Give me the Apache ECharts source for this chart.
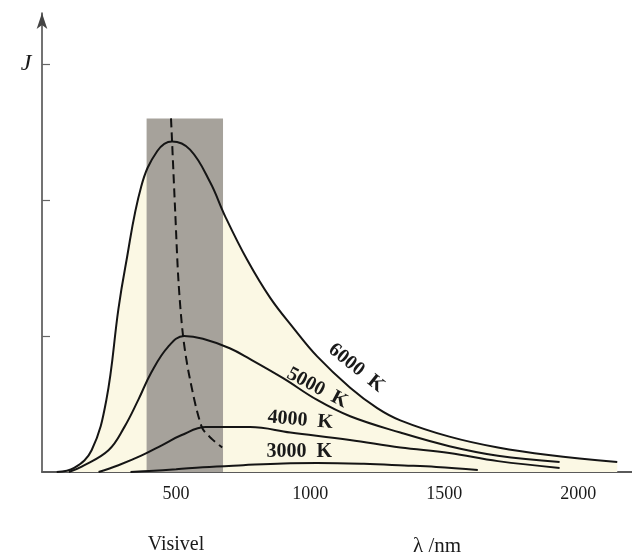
<!DOCTYPE html>
<html>
<head>
<meta charset="utf-8">
<script src="https://cdn.jsdelivr.net/npm/echarts@6/dist/echarts.min.js"></script>
<style>
html, body { margin: 0; padding: 0; background: #fff; }
#main { width: 632px; height: 553px; }
</style>
</head>
<body>
<div id="main"></div>
<script>
// [wavelength nm, J]
let curve6000 = [[55, 0], [120, 0.03], [185, 0.16], [240, 0.53], [285, 1.2], [310, 1.5], [370, 2.1],
    [430, 2.36], [485, 2.43], [552, 2.37], [627, 2.13], [683, 1.88], [765, 1.56], [851, 1.28],
    [937, 1.06], [1026, 0.85], [1149, 0.62], [1250, 0.47], [1336, 0.38], [1519, 0.26],
    [1700, 0.18], [1889, 0.125], [2145, 0.074]];
let curve5000 = [[100, 0], [148, 0.04], [248, 0.16], [307, 0.33], [359, 0.53], [407, 0.73],
    [470, 0.92], [530, 1.0], [600, 0.98], [700, 0.91], [776, 0.83], [899, 0.69], [1026, 0.53],
    [1149, 0.41], [1336, 0.29], [1519, 0.19], [1700, 0.12], [1930, 0.074]];
let curve4000 = [[211, 0], [285, 0.05], [370, 0.12], [450, 0.2], [519, 0.27], [611, 0.33],
    [700, 0.33], [776, 0.33], [926, 0.29], [1148, 0.235], [1336, 0.18], [1519, 0.14],
    [1700, 0.08], [1930, 0.03]];
let curve3000 = [[330, 0], [400, 0.008], [500, 0.02], [600, 0.035], [750, 0.05], [900, 0.063],
    [1026, 0.066], [1200, 0.06], [1350, 0.048], [1470, 0.037], [1625, 0.015]];
// locus of the maxima (dashed)
let peakLine = [[481, 2.6], [485, 2.43], [497, 1.9], [509, 1.4], [526, 1.0], [550, 0.7],
    [596, 0.33], [635, 0.24], [672, 0.18]];
// visible band
let visibleBand = [[390, 2.6], [675, 2.6]];

let xTicks = [500, 1000, 1500, 2000];
let yTicks = [1, 2, 3];
let curveLabels = [
    {text: '6000  K', at: [1172, 0.765], rot: -39},
    {text: '5000  K', at: [1026, 0.618], rot: -28},
    {text: '4000  K', at: [963, 0.382], rot: -5},
    {text: '3000  K', at: [959, 0.147], rot: 0}
];

let serif = '"Liberation Serif", "DejaVu Serif", serif';
let myChart = echarts.init(document.getElementById('main'));

function curve(data) {
    return {
        type: 'line', data: data, showSymbol: false, smooth: 0.4,
        lineStyle: {color: '#151515', width: 2}, z: 4, silent: true
    };
}

let option = {
    animation: false,
    backgroundColor: '#fff',
    grid: {left: 42, top: 13, width: 590, height: 459, containLabel: false},
    xAxis: {
        type: 'value', min: 0, max: 2200, interval: 500,
        splitLine: {show: false},
        axisLine: {lineStyle: {color: '#5a5a5a', width: 2}},
        axisTick: {inside: true, length: 8, lineStyle: {color: '#555', width: 1.2},
            customValues: xTicks},
        axisLabel: {customValues: xTicks, color: '#1a1a1a', fontFamily: serif, fontSize: 18, margin: 13,
            formatter: function (v) { return String(v); }}
    },
    yAxis: {
        type: 'value', min: 0, max: 3.375, interval: 1,
        splitLine: {show: false},
        axisLine: {lineStyle: {color: '#444', width: 1.5}, symbol: ['none', 'arrow'], symbolSize: [8, 16]},
        axisTick: {inside: true, length: 8, lineStyle: {color: '#666', width: 1.2}, customValues: yTicks},
        axisLabel: {show: false}
    },
    series: [
        {
            type: 'line', data: curve6000, showSymbol: false, smooth: 0.4,
            lineStyle: {width: 0}, areaStyle: {color: '#fbf8e4', opacity: 1}, z: 1, silent: true
        },
        {
            type: 'line', data: visibleBand, showSymbol: false,
            lineStyle: {width: 0}, areaStyle: {color: '#a6a29b', opacity: 1}, z: 2, silent: true
        },
        curve(curve6000),
        curve(curve5000),
        curve(curve4000),
        curve(curve3000),
        {
            type: 'line', data: peakLine, showSymbol: false, smooth: 0.3,
            lineStyle: {color: '#111', width: 2, type: [9, 5]}, z: 5, silent: true
        }
    ]
};
myChart.setOption(option);

// curve names, placed in data coordinates
let texts = curveLabels.map(function (l) {
    let p = myChart.convertToPixel({gridIndex: 0}, l.at);
    return {
        type: 'text', x: p[0], y: p[1], rotation: l.rot * Math.PI / 180, z: 100,
        style: {text: l.text, fill: '#1a1a1a', font: 'bold 20px ' + serif, align: 'center', verticalAlign: 'middle'}
    };
});
texts.push({type: 'text', x: 26, y: 64, z: 100, style: {text: 'J', fill: '#1a1a1a', font: 'italic 24px ' + serif, align: 'center', verticalAlign: 'middle'}});
texts.push({type: 'text', x: 176, y: 545, z: 100, style: {text: 'Visivel', fill: '#1a1a1a', font: '20px ' + serif, align: 'center', verticalAlign: 'middle'}});
texts.push({type: 'text', x: 437, y: 546, z: 100, style: {text: 'λ /nm', fill: '#1a1a1a', font: '21px ' + serif, align: 'center', verticalAlign: 'middle'}});
myChart.setOption({graphic: texts});
</script>
</body>
</html>
